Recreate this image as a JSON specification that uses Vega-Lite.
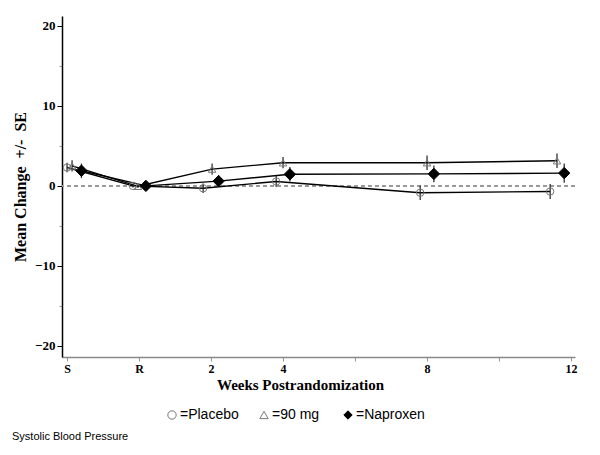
{
  "$schema": "https://vega.github.io/schema/vega-lite/v6.json",
  "width": 513,
  "height": 341,
  "autosize": {"type": "none"},
  "padding": {"left": 62, "top": 16, "right": 25, "bottom": 98},
  "background": "white",
  "config": {
    "view": {"stroke": null},
    "axis": {"grid": false},
    "legend": {
      "orient": "none",
      "legendX": 103,
      "legendY": 392,
      "direction": "horizontal",
      "labelFont": "Liberation Sans",
      "labelFontSize": 14,
      "labelColor": "black",
      "labelOffset": 1,
      "symbolSize": 70,
      "symbolStrokeWidth": 1,
      "columnPadding": 18
    }
  },
  "title": {
    "text": "Systolic Blood Pressure",
    "orient": "bottom",
    "anchor": "start",
    "frame": "group",
    "font": "Liberation Sans",
    "fontSize": 11,
    "fontWeight": "normal",
    "color": "black",
    "dx": -50,
    "dy": -15,
    "offset": 24
  },
  "data": {
    "values": [
      {"group": "Placebo", "visit": "S", "x": -2.0, "y": 2.3, "lo": 1.7, "hi": 2.9},
      {"group": "Placebo", "visit": "R", "x": -0.17, "y": 0.0, "lo": -0.2, "hi": 0.2},
      {"group": "Placebo", "visit": "2", "x": 1.78, "y": -0.3, "lo": -0.9, "hi": 0.3},
      {"group": "Placebo", "visit": "4", "x": 3.81, "y": 0.55, "lo": -0.15, "hi": 1.25},
      {"group": "Placebo", "visit": "8", "x": 7.81, "y": -0.85, "lo": -1.75, "hi": 0.05},
      {"group": "Placebo", "visit": "12", "x": 11.42, "y": -0.7, "lo": -1.65, "hi": 0.25},
      {"group": "90  mg", "visit": "S", "x": -1.86, "y": 2.5, "lo": 1.8, "hi": 3.2},
      {"group": "90  mg", "visit": "R", "x": -0.03, "y": -0.05, "lo": -0.25, "hi": 0.15},
      {"group": "90  mg", "visit": "2", "x": 2.03, "y": 2.1, "lo": 1.4, "hi": 2.8},
      {"group": "90  mg", "visit": "4", "x": 4.0, "y": 2.9, "lo": 2.2, "hi": 3.6},
      {"group": "90  mg", "visit": "8", "x": 8.0, "y": 2.9, "lo": 2.0, "hi": 3.8},
      {"group": "90  mg", "visit": "12", "x": 11.61, "y": 3.15, "lo": 2.25, "hi": 4.05},
      {"group": "Naproxen", "visit": "S", "x": -1.6, "y": 1.9, "lo": 1.0, "hi": 2.8},
      {"group": "Naproxen", "visit": "R", "x": 0.19, "y": 0.0, "lo": -0.3, "hi": 0.3},
      {"group": "Naproxen", "visit": "2", "x": 2.21, "y": 0.6, "lo": -0.15, "hi": 1.35},
      {"group": "Naproxen", "visit": "4", "x": 4.19, "y": 1.45, "lo": 0.55, "hi": 2.35},
      {"group": "Naproxen", "visit": "8", "x": 8.19, "y": 1.5, "lo": 0.45, "hi": 2.55},
      {"group": "Naproxen", "visit": "12", "x": 11.81, "y": 1.6, "lo": 0.4, "hi": 2.8}
    ]
  },
  "layer": [
    {
      "mark": {"type": "rule", "stroke": "#999", "strokeDash": [4, 3], "strokeWidth": 1},
      "encoding": {
        "y": {
          "datum": 0,
          "type": "quantitative",
          "scale": {"domain": [-21.4, 21.25], "nice": false, "zero": false},
          "title": "Mean Change\u00a0\u00a0+/-\u00a0\u00a0SE",
          "axis": {
            "values": [-20, -15, -10, -5, 0, 5, 10, 15, 20],
            "labelExpr": "datum.value % 10 === 0 ? datum.label : ''",
            "labelFont": "Liberation Serif",
            "labelFontWeight": "bold",
            "labelFontSize": 13,
            "labelColor": "black",
            "labelPadding": 2,
            "tickSize": {"condition": {"test": "datum.value % 10 === 0", "value": 5}, "value": 3},
            "tickColor": {"condition": {"test": "datum.value % 10 === 0", "value": "black"}, "value": "#999"},
            "tickWidth": 1,
            "domainColor": "black",
            "domainWidth": 1.5,
            "titleFont": "Liberation Serif",
            "titleFontWeight": "bold",
            "titleFontSize": 16,
            "titleColor": "black",
            "titlePadding": 6
          }
        }
      }
    },
    {
      "mark": {"type": "line", "color": "black", "strokeWidth": 1.4},
      "encoding": {
        "x": {
          "field": "x",
          "type": "quantitative",
          "scale": {"domain": [-2.14, 12.11], "nice": false, "zero": false},
          "title": "Weeks Postrandomization",
          "axis": {
            "values": [-2, 0, 2, 4, 6, 8, 10, 12],
            "labelExpr": "datum.value === -2 ? 'S' : datum.value === 0 ? 'R' : (datum.value === 6 || datum.value === 10) ? '' : datum.label",
            "labelFont": "Liberation Serif",
            "labelFontWeight": "bold",
            "labelFontSize": 12,
            "labelColor": "black",
            "labelPadding": 2,
            "tickSize": 4,
            "tickColor": "#999",
            "domainColor": "#888",
            "domainWidth": 1.5,
            "titleFont": "Liberation Serif",
            "titleFontWeight": "bold",
            "titleFontSize": 15,
            "titleColor": "black",
            "titlePadding": 3,
            "titleX": 238
          }
        },
        "y": {"field": "y", "type": "quantitative", "title": "Mean Change\u00a0\u00a0+/-\u00a0\u00a0SE"},
        "detail": {"field": "group"},
        "order": {"field": "x"}
      }
    },
    {
      "mark": {"type": "rule", "color": "#222", "strokeWidth": 1.2},
      "encoding": {
        "x": {"field": "x", "type": "quantitative", "title": "Weeks Postrandomization"},
        "y": {"field": "lo", "type": "quantitative", "title": "Mean Change\u00a0\u00a0+/-\u00a0\u00a0SE"},
        "y2": {"field": "hi"}
      }
    },
    {
      "mark": {"type": "point", "strokeWidth": 1, "opacity": 1},
      "encoding": {
        "x": {"field": "x", "type": "quantitative", "title": "Weeks Postrandomization"},
        "y": {"field": "y", "type": "quantitative", "title": "Mean Change\u00a0\u00a0+/-\u00a0\u00a0SE"},
        "shape": {
          "field": "group",
          "type": "nominal",
          "title": null,
          "scale": {"domain": ["Placebo", "90  mg", "Naproxen"], "range": ["circle", "triangle-up", "diamond"]},
          "legend": {"labelExpr": "'=' + datum.label"}
        },
        "fill": {
          "field": "group",
          "type": "nominal",
          "title": null,
          "scale": {"domain": ["Placebo", "90  mg", "Naproxen"], "range": ["transparent", "transparent", "black"]},
          "legend": {"labelExpr": "'=' + datum.label"}
        },
        "stroke": {
          "field": "group",
          "type": "nominal",
          "title": null,
          "scale": {"domain": ["Placebo", "90  mg", "Naproxen"], "range": ["#777", "#777", "black"]},
          "legend": {"labelExpr": "'=' + datum.label"}
        },
        "size": {
          "condition": {"test": "datum.group === 'Naproxen'", "value": 130},
          "value": 55
        }
      }
    }
  ]
}
